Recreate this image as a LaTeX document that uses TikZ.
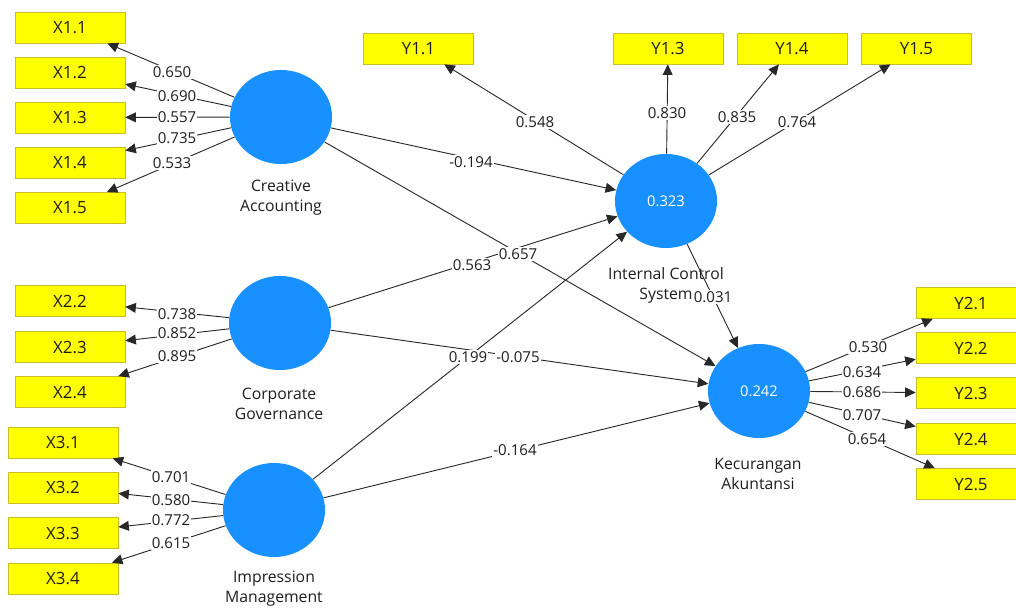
\documentclass[tikz,border=0pt]{standalone}
\usepackage{fontspec}
\setmainfont{Open Sans}
\usetikzlibrary{shapes.geometric,arrows.meta}
\definecolor{lvblue}{RGB}{24,144,255}
\definecolor{mvyellow}{RGB}{255,255,0}
\definecolor{mvborder}{RGB}{200,190,40}
\definecolor{edgegray}{RGB}{40,40,40}
\definecolor{txt}{RGB}{30,30,30}
\begin{document}
\begin{tikzpicture}[x=0.025cm,y=-0.025cm,
 mv/.style={draw=mvborder, fill=mvyellow, minimum width=2.75cm, minimum height=0.78cm, inner sep=0pt, font=\fontsize{12}{12}\selectfont, text=txt},
 lv/.style={ellipse, fill=lvblue, minimum width=2.55cm, minimum height=2.35cm, inner sep=0pt, text=white, font=\fontsize{10.5}{12}\selectfont},
 lvname/.style={align=center, font=\fontsize{11.2}{14.2}\selectfont, text=txt},
 w/.style={fill=white, inner sep=0.8pt, font=\fontsize{10.7}{12}\selectfont, text=txt},
 arr/.style={draw=edgegray, line width=0.65pt, -{Triangle[length=7.5pt,width=7pt]}}
]
\clip (0,0) rectangle (1016,607);
\fill[white] (0,0) rectangle (1016,607);

% indicators
\node[mv] (x11) at (70,27.5) {X1.1};
\node[mv] (x12) at (70,72.5) {X1.2};
\node[mv] (x13) at (70,117.5) {X1.3};
\node[mv] (x14) at (70,162.5) {X1.4};
\node[mv] (x15) at (70,208) {X1.5};
\node[mv] (x22) at (70,301) {X2.2};
\node[mv] (x23) at (70,347) {X2.3};
\node[mv] (x24) at (70,392) {X2.4};
\node[mv] (x31) at (63,442.5) {X3.1};
\node[mv] (x32) at (63,487.5) {X3.2};
\node[mv] (x33) at (63,533) {X3.3};
\node[mv] (x34) at (63,578.5) {X3.4};
\node[mv] (y11) at (418.5,48.5) {Y1.1};
\node[mv] (y13) at (668,48.5) {Y1.3};
\node[mv] (y14) at (792,48.5) {Y1.4};
\node[mv] (y15) at (916.5,48.5) {Y1.5};
\node[mv] (y21) at (971,303) {Y2.1};
\node[mv] (y22) at (971,348) {Y2.2};
\node[mv] (y23) at (971,393) {Y2.3};
\node[mv] (y24) at (971,439) {Y2.4};
\node[mv] (y25) at (971,484) {Y2.5};

% latents
\node[lv] (ca) at (281,117) {};
\node[lv] (cg) at (280,323) {};
\node[lv] (im) at (274,510) {};
\node[lv] (ics) at (666,201) {0.323};
\node[lv] (ka) at (759,391) {0.242};

\node[lvname] (caname) at (281,198) {Creative\\Accounting};
\node[lvname] (cgname) at (279,404) {Corporate\\Governance};
\node[lvname] (imname) at (274,589) {Impression\\Management};
\node[lvname] (icsname) at (666,285.5) {Internal Control\\System};
\node[lvname] (kaname) at (758,473.5) {Kecurangan\\Akuntansi};

% outer loadings
\foreach \t in {x11,x12,x13,x14,x15} \draw[arr] (ca) -- (\t);
\foreach \t in {x22,x23,x24} \draw[arr] (cg) -- (\t);
\foreach \t in {x31,x32,x33,x34} \draw[arr] (im) -- (\t);
\foreach \t in {y11,y13,y14,y15} \draw[arr] (ics) -- (\t);
\foreach \t in {y21,y22,y23,y24,y25} \draw[arr] (ka) -- (\t);

% structural paths
\draw[arr] (ca) -- (ics);
\draw[arr] (ca) -- (ka);
\draw[arr] (cg) -- (ics);
\draw[arr] (cg) -- (ka);
\draw[arr] (im) -- (ics);
\draw[arr] (im) -- (ka);
\draw[arr] (ics) -- (ka);

% labels
\node[w] (l1) at (172,72) {0.650};
\node[w] (l2) at (177,96) {0.690};
\node[w] (l3) at (177,117) {0.557};
\node[w] (l4) at (177,138) {0.735};
\node[w] (l5) at (172,163) {0.533};
\node[w] (l6) at (177,314) {0.738};
\node[w] (l7) at (177,333) {0.852};
\node[w] (l8) at (177,356) {0.895};
\node[w] (l9) at (171,477) {0.701};
\node[w] (l10) at (171,500) {0.580};
\node[w] (l11) at (171,520) {0.772};
\node[w] (l12) at (171,543) {0.615};
\node[w] (l13) at (535,122) {0.548};
\node[w] (l14) at (667,113) {0.830};
\node[w] (l15) at (737,117) {0.835};
\node[w] (l16) at (797,122) {0.764};
\node[w] (l17) at (471,162) {-0.194};
\node[w] (l18) at (472,265) {0.563};
\node[w] (l19) at (518,254) {0.657};
\node[w] (l20) at (468,357) {0.199};
\node[w] (l21) at (518,357) {-0.075};
\node[w] (l22) at (515,450) {-0.164};
\node[w] (l23) at (713,297) {0.031};
\node[w] (l24) at (868,347) {0.530};
\node[w] (l25) at (862,372) {0.634};
\node[w] (l26) at (862,392) {0.686};
\node[w] (l27) at (862,415) {0.707};
\node[w] (l28) at (867,439) {0.654};
\end{tikzpicture}
\end{document}
